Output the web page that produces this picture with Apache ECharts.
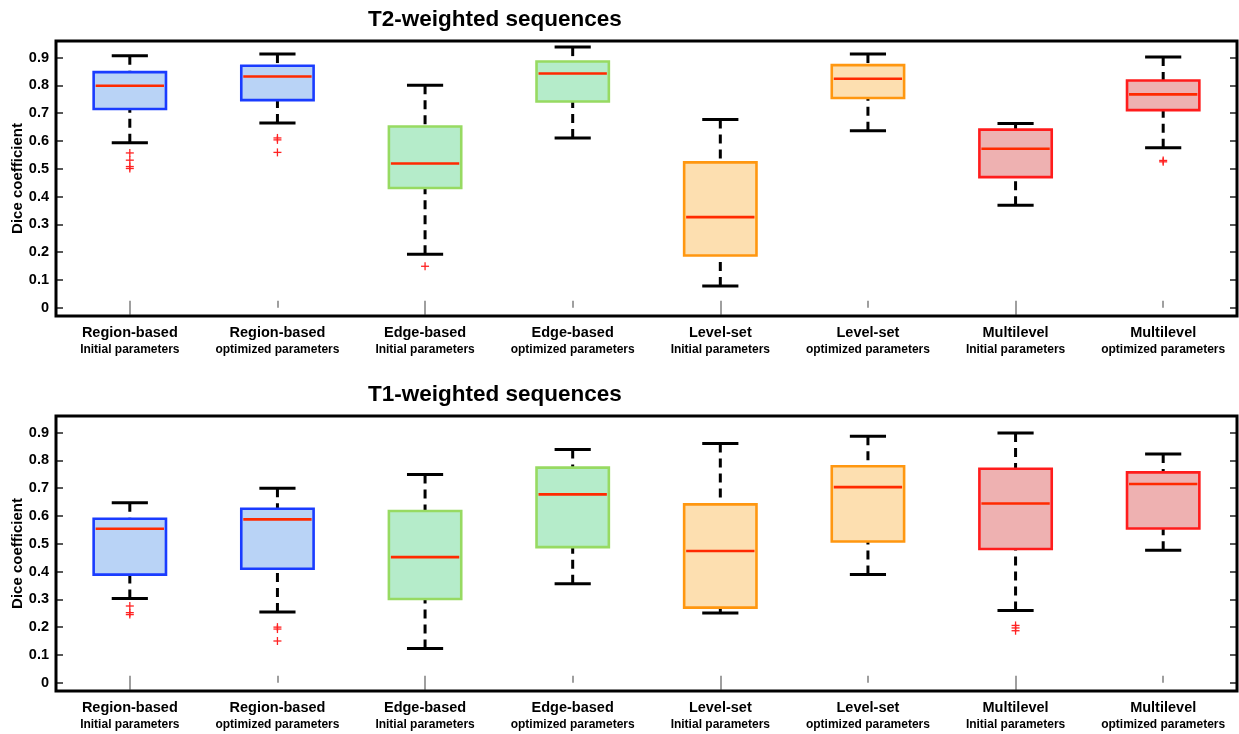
<!DOCTYPE html>
<html>
<head>
<meta charset="utf-8">
<title>Dice coefficient box plots</title>
<script src="https://cdn.jsdelivr.net/npm/echarts@6/dist/echarts.min.js"></script>
<style>
  html, body { margin: 0; padding: 0; background: #fff; }
  #chart { width: 1239px; height: 734px; }
</style>
</head>
<body>
<div id="chart"></div>
<script>
// Segmentation methods and their parameter setting (two-line category labels)
const methodNames = ['Region-based', 'Region-based', 'Edge-based', 'Edge-based',
                     'Level-set', 'Level-set', 'Multilevel', 'Multilevel'];
const paramNames = ['Initial parameters', 'optimized parameters', 'Initial parameters', 'optimized parameters',
                    'Initial parameters', 'optimized parameters', 'Initial parameters', 'optimized parameters'];
const categories = methodNames.map((m, i) => m + '\n' + paramNames[i]);

// Box statistics per category: [lower whisker, Q1, median, Q3, upper whisker]
const statsT2 = [
  [0.594, 0.715, 0.799, 0.848, 0.907],
  [0.665, 0.747, 0.832, 0.871, 0.913],
  [0.192, 0.431, 0.519, 0.652, 0.801],
  [0.611, 0.742, 0.843, 0.886, 0.938],
  [0.078, 0.188, 0.326, 0.523, 0.677],
  [0.637, 0.755, 0.824, 0.873, 0.913],
  [0.369, 0.470, 0.572, 0.641, 0.663],
  [0.576, 0.711, 0.768, 0.818, 0.902]
];
// Outliers: [category index, value]
const outliersT2 = [
  [0, 0.557], [0, 0.531], [0, 0.508], [0, 0.501],
  [1, 0.611], [1, 0.604], [1, 0.559],
  [2, 0.149],
  [7, 0.530], [7, 0.525]
];

const statsT1 = [
  [0.303, 0.389, 0.554, 0.590, 0.648],
  [0.254, 0.410, 0.588, 0.626, 0.700],
  [0.123, 0.301, 0.452, 0.618, 0.749],
  [0.356, 0.488, 0.678, 0.774, 0.839],
  [0.251, 0.270, 0.474, 0.642, 0.861],
  [0.389, 0.508, 0.704, 0.779, 0.887],
  [0.260, 0.481, 0.645, 0.770, 0.899],
  [0.477, 0.555, 0.715, 0.757, 0.823]
];
const outliersT1 = [
  [0, 0.276], [0, 0.252], [0, 0.245],
  [1, 0.200], [1, 0.193], [1, 0.150],
  [6, 0.206], [6, 0.197], [6, 0.187]
];

const panelTitles = ['T2-weighted sequences', 'T1-weighted sequences'];
const yTickLabels = ['0', '0.1', '0.2', '0.3', '0.4', '0.5', '0.6', '0.7', '0.8', '0.9'];

// Colours per method pair: [fill, outline]
const palette = [
  ['#b9d3f6', '#1a3cff'],
  ['#b5ecca', '#97da62'],
  ['#fddfb0', '#ff9710'],
  ['#eeb1b1', '#ff1c1c']
];
const medianColor = '#ff2a00';
const outlierColor = '#ff2222';
const FONT = '"Liberation Sans", Arial, Helvetica, sans-serif';

function renderBox(params, api) {
  const idx = api.value(0);
  const low = api.value(1), q1 = api.value(2), med = api.value(3), q3 = api.value(4), high = api.value(5);
  const band = api.size([1, 0])[0];
  const boxW = band * 0.49;
  const capW = band * 0.245;
  const cx = api.coord([idx, med])[0];
  const yLow = api.coord([idx, low])[1];
  const yQ1 = api.coord([idx, q1])[1];
  const yMed = api.coord([idx, med])[1];
  const yQ3 = api.coord([idx, q3])[1];
  const yHigh = api.coord([idx, high])[1];
  const col = palette[Math.floor(idx / 2)];
  const whiskerStyle = { stroke: '#000', lineWidth: 3, lineDash: [9, 6] };
  const capStyle = { stroke: '#000', lineWidth: 3 };
  return {
    type: 'group',
    children: [
      { type: 'line', shape: { x1: cx, y1: yHigh, x2: cx, y2: yQ3 }, style: whiskerStyle },
      { type: 'line', shape: { x1: cx, y1: yLow, x2: cx, y2: yQ1 }, style: whiskerStyle },
      { type: 'line', shape: { x1: cx - capW / 2, y1: yHigh, x2: cx + capW / 2, y2: yHigh }, style: capStyle },
      { type: 'line', shape: { x1: cx - capW / 2, y1: yLow, x2: cx + capW / 2, y2: yLow }, style: capStyle },
      { type: 'rect', shape: { x: cx - boxW / 2, y: yQ3, width: boxW, height: yQ1 - yQ3 },
        style: { fill: col[0], stroke: col[1], lineWidth: 2.6 } },
      { type: 'line', shape: { x1: cx - boxW / 2 + 2, y1: yMed, x2: cx + boxW / 2 - 2, y2: yMed },
        style: { stroke: medianColor, lineWidth: 2.6 } }
    ]
  };
}

function renderOutlier(params, api) {
  const p = api.coord([api.value(0), api.value(1)]);
  const s = 4;
  const st = { stroke: outlierColor, lineWidth: 1.3 };
  return {
    type: 'group',
    children: [
      { type: 'line', shape: { x1: p[0] - s, y1: p[1], x2: p[0] + s, y2: p[1] }, style: st },
      { type: 'line', shape: { x1: p[0], y1: p[1] - s, x2: p[0], y2: p[1] + s }, style: st }
    ]
  };
}

const grids = [
  { left: 56, right: 2, top: 41, height: 275 },
  { left: 56, right: 2, top: 416, height: 275 }
];

const xAxes = [];
const yAxes = [];
const series = [];
const titles = [];
const titleTops = [3, 378];

[statsT2, statsT1].forEach((stats, g) => {
  const outliers = g === 0 ? outliersT2 : outliersT1;
  // bottom category axis with two-line labels
  xAxes.push({
    type: 'category', gridIndex: g, data: categories, position: 'bottom',
    boundaryGap: true,
    axisLine: { show: false },
    axisTick: { show: true, inside: true, alignWithLabel: true, length: 7, lineStyle: { color: '#808080', width: 1.5 } },
    axisLabel: {
      margin: 7, color: '#000', interval: 0,
      formatter: v => { const parts = v.split('\n'); return '{m|' + parts[0] + '}\n{p|' + parts[1] + '}'; },
      rich: {
        m: { fontFamily: FONT, fontWeight: 'bold', fontSize: 14.5, lineHeight: 19, color: '#000' },
        p: { fontFamily: FONT, fontWeight: 'bold', fontSize: 12, lineHeight: 16, color: '#000' }
      }
    }
  });
  // top axis carrying inward ticks
  xAxes.push({
    type: 'category', gridIndex: g, data: categories, position: 'top',
    boundaryGap: true,
    axisLine: { show: false },
    axisTick: { show: true, inside: true, alignWithLabel: true, length: 7, lineStyle: { color: '#808080', width: 1.5 } },
    axisLabel: { show: false }
  });
  // left value axis
  yAxes.push({
    type: 'value', gridIndex: g, min: -0.03, max: 0.96, splitNumber: 10,
    position: 'left',
    name: 'Dice coefficient', nameLocation: 'middle', nameGap: 31, nameRotate: 90,
    nameMoveOverlap: false,
    nameTextStyle: { fontFamily: FONT, fontWeight: 'bold', fontSize: 15, color: '#000' },
    axisLine: { show: false },
    splitLine: { show: false },
    axisTick: { show: true, inside: true, length: 7, lineStyle: { color: '#222', width: 1.5 } },
    axisLabel: {
      showMinLabel: false, showMaxLabel: false, margin: 7,
      fontFamily: FONT, fontWeight: 'bold', fontSize: 14.5, color: '#000',
      formatter: v => {
        const k = Math.round(v * 10);
        return Math.abs(v * 10 - k) < 1e-6 && k >= 0 && k < yTickLabels.length ? yTickLabels[k] : '';
      }
    }
  });
  // right value axis carrying inward ticks
  yAxes.push({
    type: 'value', gridIndex: g, min: -0.03, max: 0.96, splitNumber: 10,
    position: 'right',
    axisLine: { show: false },
    splitLine: { show: false },
    axisTick: { show: true, inside: true, length: 7, lineStyle: { color: '#222', width: 1.5 } },
    axisLabel: { show: false }
  });

  series.push({
    type: 'custom', name: panelTitles[g] + ' boxes',
    xAxisIndex: g * 2, yAxisIndex: g * 2,
    renderItem: renderBox,
    encode: { x: 0, y: [1, 2, 3, 4, 5] },
    data: stats.map((s, i) => [i, s[0], s[1], s[2], s[3], s[4]]),
    z: 3
  });
  series.push({
    type: 'custom', name: panelTitles[g] + ' outliers',
    xAxisIndex: g * 2, yAxisIndex: g * 2,
    renderItem: renderOutlier,
    encode: { x: 0, y: 1 },
    data: outliers,
    z: 4
  });

  titles.push({
    text: panelTitles[g], left: 363, top: titleTops[g],
    textStyle: { fontFamily: FONT, fontWeight: 'bold', fontSize: 22.5, color: '#000' }
  });
});

const chart = echarts.init(document.getElementById('chart'), null, { renderer: 'canvas' });
chart.setOption({
  animation: false,
  backgroundColor: '#fff',
  title: titles,
  grid: grids.map(g => Object.assign({
    show: true, borderColor: '#000', borderWidth: 3, backgroundColor: 'transparent', z: 10,
    containLabel: false, outerBoundsMode: 'none'
  }, g)),
  xAxis: xAxes,
  yAxis: yAxes,
  series: series
});
</script>
</body>
</html>
